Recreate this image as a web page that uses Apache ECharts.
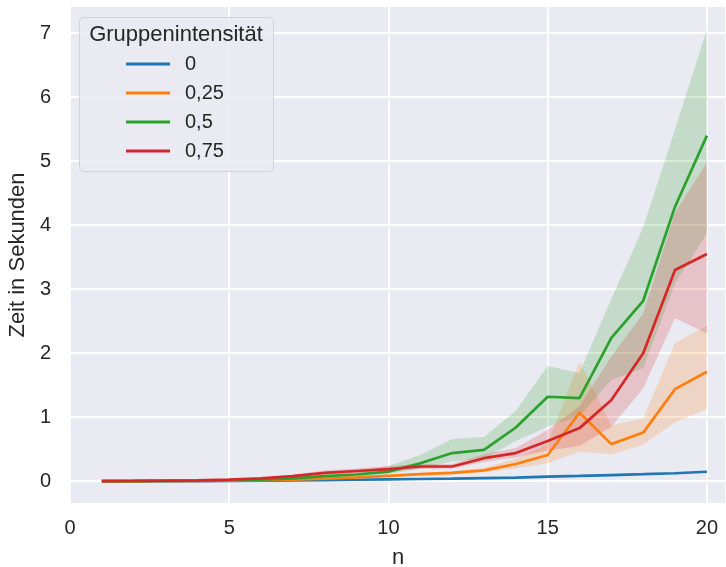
<!DOCTYPE html>
<html><head><meta charset="utf-8">
<script src="https://cdn.jsdelivr.net/npm/echarts@6/dist/echarts.min.js"></script>
<style>html,body{margin:0;padding:0;background:#fff;overflow:hidden;width:100%;height:100%}#c{width:100vw;height:100vh}</style>
</head><body><div id="c"></div>
<script>
const nValues = [1,2,3,4,5,6,7,8,9,10,11,12,13,14,15,16,17,18,19,20];
const seriesNames = ['0','0,25','0,5','0,75'];
const colors = ['#1f77b4','#ff7f0e','#2ca02c','#d62728'];
const yTicks = [0,1,2,3,4,5,6,7];

const mean0 = [0.0005,0.001,0.002,0.003,0.005,0.008,0.012,0.017,0.023,0.03,0.035,0.04,0.05,0.058,0.072,0.083,0.097,0.11,0.125,0.148];
const lo0   = [0.0004,0.0009,0.0018,0.0028,0.0046,0.0074,0.011,0.016,0.021,0.028,0.033,0.038,0.047,0.055,0.068,0.079,0.092,0.105,0.119,0.141];
const hi0   = [0.0006,0.0011,0.0022,0.0032,0.0054,0.0086,0.013,0.018,0.025,0.032,0.037,0.042,0.053,0.061,0.076,0.087,0.102,0.115,0.131,0.155];

const mean25 = [0.0005,0.002,0.004,0.007,0.011,0.017,0.025,0.04,0.06,0.085,0.11,0.13,0.17,0.27,0.41,1.07,0.58,0.76,1.44,1.71];
const lo25   = [0.0004,0.0015,0.003,0.005,0.008,0.013,0.02,0.032,0.048,0.068,0.09,0.11,0.14,0.2,0.28,0.46,0.42,0.57,0.92,1.13];
const hi25   = [0.0006,0.0025,0.005,0.009,0.014,0.022,0.031,0.05,0.075,0.105,0.13,0.155,0.21,0.35,0.58,1.87,0.87,0.98,2.16,2.43];

const mean50 = [0.0005,0.003,0.006,0.01,0.016,0.025,0.045,0.08,0.105,0.15,0.28,0.44,0.49,0.84,1.32,1.30,2.24,2.82,4.29,5.40];
const lo50   = [0.0004,0.002,0.005,0.008,0.012,0.019,0.034,0.06,0.08,0.11,0.2,0.31,0.35,0.63,0.85,1.02,1.58,1.77,3.09,3.87];
const hi50   = [0.0006,0.004,0.007,0.012,0.02,0.032,0.057,0.1,0.15,0.24,0.41,0.66,0.69,1.10,1.80,1.69,2.85,3.97,5.5,7.06];

const mean75 = [0.001,0.005,0.01,0.015,0.025,0.045,0.08,0.13,0.16,0.19,0.23,0.23,0.36,0.44,0.63,0.83,1.27,2.0,3.30,3.55];
const lo75   = [0.0008,0.004,0.008,0.012,0.019,0.035,0.06,0.1,0.13,0.15,0.19,0.2,0.3,0.37,0.48,0.55,0.85,1.45,2.55,2.31];
const hi75   = [0.0012,0.006,0.012,0.018,0.031,0.058,0.1,0.17,0.2,0.24,0.27,0.27,0.42,0.52,0.8,1.17,1.95,2.62,4.2,4.98];

const means = [mean0, mean25, mean50, mean75];
const lows = [lo0, lo25, lo50, lo75];
const highs = [hi0, hi25, hi50, hi75];

const FONT = '"Liberation Sans", Arial, sans-serif';
const TXT = '#262626';

const series = [];
seriesNames.forEach((name, k) => {
  series.push({
    name: name, type: 'line', color: colors[k],
    data: nValues.map((n, i) => [n, means[k][i]]),
    showSymbol: false, symbol: 'none',
    lineStyle: { width: 2.7, color: colors[k] },
    emphasis: { disabled: true }
  });
  const lo = lows[k], hi = highs[k], col = colors[k];
  series.push({
    name: name + ' band', type: 'custom',
    data: nValues.map((n, i) => [n, lo[i], hi[i]]),
    encode: { x: 0, y: [1, 2] },
    renderItem: function (params, api) {
      if (params.dataIndex !== 0) return null;
      const pts = [];
      for (let i = 0; i < nValues.length; i++) pts.push(api.coord([nValues[i], hi[i]]));
      for (let i = nValues.length - 1; i >= 0; i--) pts.push(api.coord([nValues[i], lo[i]]));
      return { type: 'polygon', shape: { points: pts }, style: { fill: col, opacity: 0.2 } };
    },
    silent: true
  });
});

const chart = echarts.init(document.getElementById('c'), null, { renderer: 'canvas' });
chart.setOption({
  animation: false,
  textStyle: { fontFamily: FONT },
  grid: { left: 70, right: 0, top: 7, bottom: 64, show: true, backgroundColor: '#EAEAF2', borderWidth: 0,
          containLabel: false, outerBoundsMode: 'none' },
  xAxis: {
    type: 'value', min: 0, max: 20.6, interval: 5,
    name: 'n', nameLocation: 'middle', nameGap: 44,
    nameTextStyle: { fontSize: 22, color: TXT, fontFamily: FONT },
    axisLine: { show: false }, axisTick: { show: false },
    axisLabel: { fontSize: 20, color: TXT, margin: 15, fontFamily: FONT },
    splitLine: { show: true, lineStyle: { color: '#ffffff', width: 1.8 } }
  },
  yAxis: {
    type: 'value', min: -0.34, max: 7.41,
    name: 'Zeit in Sekunden', nameLocation: 'middle', nameGap: 38, nameRotate: 90,
    nameTextStyle: { fontSize: 22, color: TXT, fontFamily: FONT },
    axisLine: { show: false },
    axisTick: { show: false, customValues: yTicks },
    axisLabel: { fontSize: 20, color: TXT, margin: 19, fontFamily: FONT, customValues: yTicks },
    splitLine: { show: true, lineStyle: { color: '#ffffff', width: 1.8 } }
  },
  graphic: [
    { type: 'rect', left: 79, top: 17, z: 3, shape: { width: 194, height: 154, r: 4 },
      style: { fill: 'rgba(234,234,242,0.8)', stroke: 'rgba(204,204,204,0.8)', lineWidth: 1 } },
    { type: 'text', x: 176, y: 35, z: 4,
      style: { text: 'Gruppenintensität', fill: TXT, font: '22px ' + FONT, align: 'center', verticalAlign: 'middle' } }
  ],
  legend: {
    data: seriesNames, orient: 'vertical', left: 126, top: 49.5, z: 5, padding: 0,
    icon: 'rect', itemWidth: 44, itemHeight: 3, itemGap: 0,
    selectedMode: false,
    textStyle: { fontSize: 20, color: TXT, fontFamily: FONT, lineHeight: 29, padding: [0, 0, 0, 10] }
  },
  series: series
});
</script>
</body></html>
